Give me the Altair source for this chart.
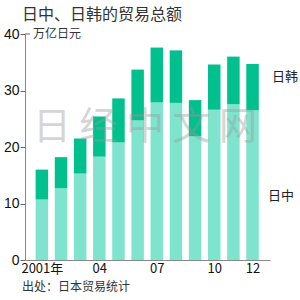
import altair as alt
import pandas as pd

years = [2001, 2002, 2003, 2004, 2005, 2006, 2007, 2008, 2009, 2010, 2011, 2012]
china = [10.7, 12.7, 15.3, 18.3, 20.8, 24.7, 27.9, 27.8, 21.9, 26.6, 27.6, 26.5]
total = [16.0, 18.2, 21.5, 25.4, 28.6, 33.7, 37.6, 37.1, 28.3, 34.6, 36.0, 34.7]
korea = [round(t - c, 1) for t, c in zip(total, china)]
series = ["日中", "日韩"]
colors = ["#7FE4CD", "#00C08E"]
tick_years = [2001, 2004, 2007, 2010, 2012]

title_text = "日中、日韩的贸易总额"
unit_text = "万亿日元"
source_text = "出处：日本贸易统计"
watermark = "日 经 中 文 网"

rows = []
for y, c, k in zip(years, china, korea):
    rows.append({"year": y, "series": series[0], "value": c, "ord": 0})
    rows.append({"year": y, "series": series[1], "value": k, "ord": 1})
df = pd.DataFrame(rows)

FONT = "Noto Sans CJK SC"

bars = alt.Chart(df).mark_bar(size=12.5).encode(
    x=alt.X("year:Q",
            scale=alt.Scale(domain=[2000.38, 2012.65], nice=False, zero=False),
            axis=alt.Axis(values=tick_years, title=None, grid=False, ticks=False,
                          labelExpr="datum.value == 2001 ? '2001年' : substring(toString(datum.value), 2)",
                          labelFont=FONT, labelFontSize=13, labelColor="#111",
                          labelPadding=2, domainColor="#888", labelFlush=False)),
    y=alt.Y("value:Q", stack="zero",
            scale=alt.Scale(domain=[0, 40], nice=False),
            axis=alt.Axis(values=[0, 10, 20, 30, 40], title=None, grid=False,
                          tickSize=5, tickColor="#666", domainColor="#888",
                          labelFont="Liberation Sans", labelFontSize=14, labelColor="#111",
                          labelPadding=1)),
    color=alt.Color("series:N", scale=alt.Scale(domain=series, range=colors), legend=None),
    order=alt.Order("ord:Q"),
)

def txt(s, x, y, size, align="left", color="#222", opacity=1.0):
    return alt.Chart(pd.DataFrame({"t": [s]})).mark_text(
        font=FONT, fontSize=size, align=align, baseline="middle", color=color, opacity=opacity
    ).encode(text="t:N", x=alt.value(x), y=alt.value(y))

top_rule = alt.Chart(pd.DataFrame({"v": [40]})).mark_rule(color="#666").encode(
    y="v:Q", x=alt.value(0), x2=alt.value(5))

chart = alt.layer(
    bars,
    top_rule,
    txt(title_text, -3, -19, 16, color="#333"),
    txt(unit_text, 8, 0, 12, color="#333"),
    txt(series[1], 247, 43, 13),
    txt(series[0], 243, 162, 13),
    txt(source_text, -3, 27 + 226, 12, color="#333"),
    txt(watermark, 120, 94, 38, align="center", color="#999999", opacity=0.4),
).properties(
    width=245, height=226,
    autosize=alt.AutoSizeParams(type="none"),
    padding={"left": 25, "top": 34, "right": 30, "bottom": 40},
).configure_view(stroke=None)

chart.save("out.html", embed_options={"renderer": "svg", "actions": False})
